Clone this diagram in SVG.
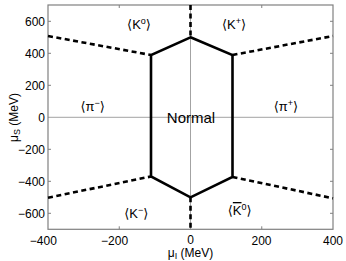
<svg xmlns="http://www.w3.org/2000/svg" width="346" height="261" viewBox="0 0 346 261">
<style>
text{font-family:"Liberation Sans","DejaVu Sans",Arial,sans-serif;fill:#000}
.tick{font-size:12px}
.lab{font-size:13px;text-anchor:middle}
.sup{font-size:9px}
.axis{fill:none;stroke:#808080;stroke-width:1.2}
.zero{stroke:#8c8c8c;stroke-width:0.8}
.tk{stroke:#808080;stroke-width:1}
.solid{fill:none;stroke:#000;stroke-width:2.6;stroke-linejoin:miter}
.dash{stroke:#000;stroke-width:2.6;stroke-dasharray:5 3.5;fill:none}
</style>
<rect width="346" height="261" fill="#fff"/>
<g id="axes">
<line class="zero" x1="48" y1="117.3" x2="333" y2="117.3"/>
<line class="zero" x1="190.5" y1="5" x2="190.5" y2="229.3"/>
<g id="ticks">
<path class="tk" d="M48 21.3h3M48 53.3h3M48 85.3h3M48 149.3h3M48 181.3h3M48 213.3h3M333 21.3h-3M333 53.3h-3M333 85.3h-3M333 149.3h-3M333 181.3h-3M333 213.3h-3M119.25 229.3v-3M261.75 229.3v-3M119.25 5v3M261.75 5v3"/>
</g>
<rect class="axis" x="48" y="5" width="285" height="224.3"/>
<g class="tick" id="ytick-labels" text-anchor="end">
<text x="45" y="25.5">600</text>
<text x="45" y="57.5">400</text>
<text x="45" y="89.5">200</text>
<text x="45" y="121.5">0</text>
<text x="45" y="153.5">−200</text>
<text x="45" y="185.5">−400</text>
<text x="45" y="217.5">−600</text>
</g>
<g class="tick" id="xtick-labels" text-anchor="middle">
<text x="43.3" y="244.5">−400</text>
<text x="114.6" y="244.5">−200</text>
<text x="190.5" y="244">0</text>
<text x="261.5" y="244.5">200</text>
<text x="333" y="244.5">400</text>
</g>
<text id="xlabel" class="tick" x="190.5" y="257" text-anchor="middle">μ<tspan class="sup" dy="2">I</tspan><tspan dy="-2"> (MeV)</tspan></text>
<text id="ylabel" class="tick" transform="translate(18,117.5) rotate(-90)" text-anchor="middle">μ<tspan class="sup" dy="2">S</tspan><tspan dy="-2"> (MeV)</tspan></text>
</g>
<g id="connectors">
<polygon class="solid" points="190.5,37.3 232.5,55 232.5,177 190.5,197.3 151,176.5 151,55"/>
<line class="dash" x1="48" y1="36" x2="151" y2="55"/>
<line class="dash" x1="232.5" y1="55" x2="333" y2="36"/>
<line class="dash" x1="48" y1="197.7" x2="151" y2="176.5"/>
<line class="dash" x1="232.5" y1="177" x2="333" y2="198.3"/>
<line class="dash" x1="190.5" y1="5" x2="190.5" y2="37.3"/>
<line class="dash" x1="190.5" y1="197.3" x2="190.5" y2="229.3"/>
</g>
<g id="normal"><text x="191" y="122.7" font-size="15" text-anchor="middle">Normal</text></g>
<g id="K0"><text class="lab" x="139" y="29">⟨K<tspan class="sup" dy="-5">o</tspan><tspan dy="5">⟩</tspan></text></g>
<g id="Kplus"><text class="lab" x="234" y="28.5">⟨K<tspan class="sup" dy="-5">+</tspan><tspan dy="5">⟩</tspan></text></g>
<g id="piminus"><text class="lab" x="92.7" y="110.5">⟨π<tspan class="sup" dy="-5">−</tspan><tspan dy="5">⟩</tspan></text></g>
<g id="piplus"><text class="lab" x="286" y="110.5">⟨π<tspan class="sup" dy="-5">+</tspan><tspan dy="5">⟩</tspan></text></g>
<g id="Kminus"><text class="lab" x="136.3" y="217.5">⟨K<tspan class="sup" dy="-5">−</tspan><tspan dy="5">⟩</tspan></text></g>
<g id="K0bar"><text class="lab" x="239.7" y="215">⟨<tspan text-decoration="overline">K</tspan><tspan class="sup" dy="-5">0</tspan><tspan dy="5">⟩</tspan></text></g>
</svg>
